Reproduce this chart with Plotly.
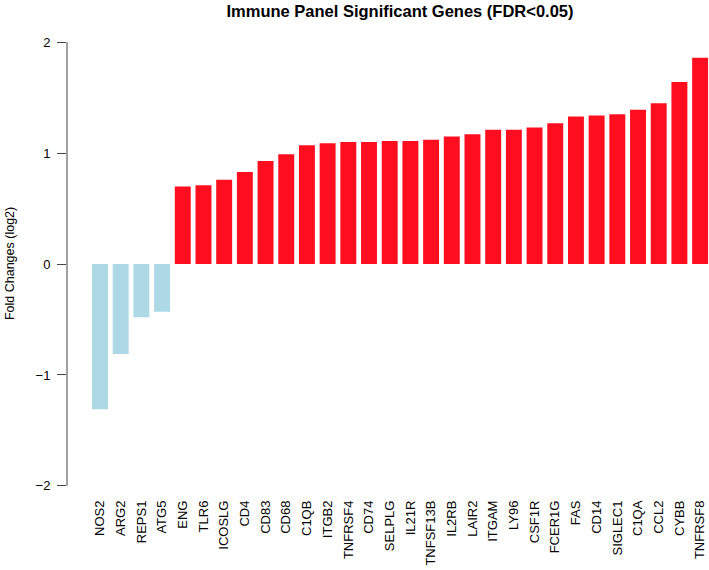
import plotly.graph_objects as go

genes = ["NOS2", "ARG2", "REPS1", "ATG5", "ENG", "TLR6", "ICOSLG", "CD4", "CD83", "CD68",
         "C1QB", "ITGB2", "TNFRSF4", "CD74", "SELPLG", "IL21R", "TNFSF13B", "IL2RB", "LAIR2",
         "ITGAM", "LY96", "CSF1R", "FCER1G", "FAS", "CD14", "SIGLEC1", "C1QA", "CCL2", "CYBB",
         "TNFRSF8"]
fold_changes = [-1.31, -0.81, -0.48, -0.43, 0.70, 0.71, 0.76, 0.83, 0.93, 0.99,
                1.07, 1.09, 1.10, 1.10, 1.11, 1.11, 1.12, 1.15, 1.17,
                1.21, 1.21, 1.23, 1.27, 1.33, 1.34, 1.35, 1.39, 1.45, 1.64,
                1.86]
y_ticks = [-2, -1, 0, 1, 2]

colors = ["#ADD8E6" if v < 0 else "#FF0E1F" for v in fold_changes]

fig = go.Figure(go.Bar(
    x=list(range(len(genes))),
    y=fold_changes,
    marker=dict(color=colors, line=dict(width=0)),
))

fig.update_layout(
    width=709, height=570,
    margin=dict(l=67, r=0, t=20, b=73),
    paper_bgcolor="white", plot_bgcolor="white",
    bargap=0.23,
    showlegend=False,
    font=dict(family="Liberation Sans, Arial, sans-serif", color="#000"),
    title=dict(text="<b>Immune Panel Significant Genes (FDR<0.05)</b>",
               xref="container", x=400 / 709, xanchor="center",
               yref="container", y=1 - 11 / 570, yanchor="middle",
               font=dict(size=16.5, color="#000")),
    xaxis=dict(
        range=[-1.595, 29.43],
        tickmode="array",
        tickvals=list(range(len(genes))),
        ticktext=genes,
        tickangle=-90,
        tickfont=dict(size=13),
        ticks="", showline=False, showgrid=False, zeroline=False,
    ),
    yaxis=dict(
        range=[-2.1, 2.2],
        tickmode="array", tickvals=y_ticks,
        ticktext=[("\u2212" + str(abs(t))) if t < 0 else str(t) for t in y_ticks],
        ticks="outside", ticklen=9, tickcolor="#444", tickwidth=1,
        ticklabelstandoff=4,
        tickfont=dict(size=13),
        showline=False, showgrid=False, zeroline=False,
    ),
    shapes=[dict(type="line", xref="paper", yref="y", x0=0, x1=0, y0=-2, y1=2,
                 line=dict(color="#444", width=1))],
    annotations=[dict(text="Fold Changes (log2)", xref="paper", yref="y",
                      x=(10 - 67) / 642, y=0, xanchor="center", yanchor="middle",
                      textangle=-90, showarrow=False, font=dict(size=12.5))],
)

fig.write_html("out.html",
               config={"displayModeBar": False},
               post_script="document.body.style.margin='0';document.body.style.overflow='hidden';")
